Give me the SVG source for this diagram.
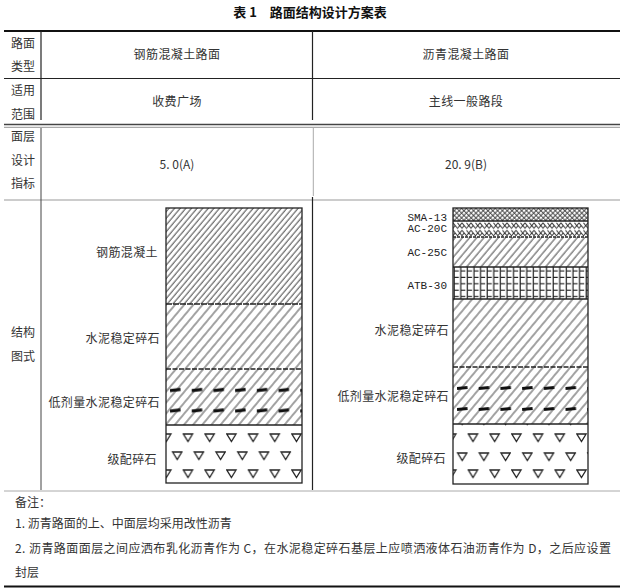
<svg xmlns="http://www.w3.org/2000/svg" width="621" height="588" viewBox="0 0 621 588">
<style>
text{font-family:"Noto Sans CJK SC","Liberation Serif",serif;fill:#333;font-size:12px}
.c{text-anchor:middle}
.e{text-anchor:end}
.t{font-weight:bold;font-size:13px;fill:#111}
.m{font-family:"Liberation Mono","Noto Sans CJK SC",monospace;font-size:11px;fill:#222}
.box{fill:none;stroke:#222;stroke-width:1.3}
.sep{stroke:#222;stroke-width:1.5}
</style>
<defs>
<pattern id="hd" width="4.3" height="4.3" patternUnits="userSpaceOnUse" patternTransform="rotate(40)"><line x1="1" y1="0" x2="1" y2="4.3" stroke="#333" stroke-width="0.9"/></pattern>
<pattern id="hs" width="7" height="7" patternUnits="userSpaceOnUse" patternTransform="rotate(40)"><line x1="1" y1="0" x2="1" y2="7" stroke="#333" stroke-width="0.9"/></pattern>
<pattern id="hm" width="5.5" height="5.5" patternUnits="userSpaceOnUse" patternTransform="rotate(40)"><line x1="1" y1="0" x2="1" y2="5.5" stroke="#333" stroke-width="0.9"/></pattern>
<pattern id="xh" width="3.4" height="3.4" patternUnits="userSpaceOnUse" patternTransform="rotate(45)"><path d="M1,0V3.4M0,1H3.4" stroke="#333" stroke-width="0.9"/></pattern>
<pattern id="zz" x="453" y="222" width="9" height="7.5" patternUnits="userSpaceOnUse"><path d="M0,0.8L4.5,6.3L9,0.8M4.5,0.8L6.7,3.5M0,6.3L2.2,3.5M9,6.3L6.8,3.5" fill="none" stroke="#333" stroke-width="1"/></pattern>
<pattern id="gr" x="453" y="267" width="6.6" height="6.4" patternUnits="userSpaceOnUse"><path d="M1.2,0V6.4M1.2,4H5.8" fill="none" stroke="#222" stroke-width="1.2"/></pattern>
<pattern id="trL" x="182.6" y="429" width="21.7" height="36" patternUnits="userSpaceOnUse"><path d="M0.8,5H10L5.4,12.5Z M11.7,23H20.9L16.3,30.5Z" fill="none" stroke="#222" stroke-width="1.3"/></pattern>
<pattern id="trR" x="467.6" y="429" width="21.7" height="36" patternUnits="userSpaceOnUse"><path d="M0.8,5H10L5.4,12.5Z M11.7,24H20.9L16.3,31.5Z" fill="none" stroke="#222" stroke-width="1.3"/></pattern>
<pattern id="dsL" x="170" y="380" width="21.7" height="20.5" patternUnits="userSpaceOnUse"><path d="M0,10.6L10.5,9.4" stroke="#111" stroke-width="3"/></pattern>
<pattern id="dsR" x="457" y="378" width="21.7" height="21" patternUnits="userSpaceOnUse"><path d="M0,10.6L10.5,9.4" stroke="#111" stroke-width="3"/></pattern>
</defs>

<text class="t c" x="310" y="17">表 1　路面结构设计方案表</text>

<g id="table-lines">
<line x1="4" y1="31" x2="620" y2="31" stroke="#111" stroke-width="2.2"/>
<line x1="4" y1="78.5" x2="620" y2="78.5" stroke="#222" stroke-width="1.2"/>
<line x1="4" y1="124.5" x2="620" y2="124.5" stroke="#444" stroke-width="1.6"/>
<line x1="4" y1="127.3" x2="620" y2="127.3" stroke="#888" stroke-width="0.9"/>
<line x1="4" y1="200" x2="620" y2="200" stroke="#999" stroke-width="1"/>
<line x1="4" y1="491" x2="620" y2="491" stroke="#aaa" stroke-width="1"/>
<line x1="4" y1="586.5" x2="620" y2="586.5" stroke="#111" stroke-width="2"/>
<line x1="41" y1="31" x2="41" y2="120" stroke="#222" stroke-width="1.2"/>
<line x1="41" y1="128" x2="41" y2="490" stroke="#444" stroke-width="1"/>
<line x1="312.5" y1="31" x2="312.5" y2="120" stroke="#222" stroke-width="1.2"/>
<line x1="313.3" y1="128" x2="313.3" y2="196" stroke="#aaa" stroke-width="1"/>
<line x1="312.5" y1="197" x2="312.5" y2="490" stroke="#222" stroke-width="1.2"/>
</g>

<g id="row-type">
<text class="c" x="23" y="48">路面</text>
<text class="c" x="23" y="71">类型</text>
<text class="c" x="177" y="59" letter-spacing="0.4">钢筋混凝土路面</text>
<text class="c" x="466" y="59" letter-spacing="0.4">沥青混凝土路面</text>
</g>
<g id="row-scope">
<text class="c" x="23" y="95">适用</text>
<text class="c" x="23" y="119">范围</text>
<text class="c" x="177" y="106" letter-spacing="0.4">收费广场</text>
<text class="c" x="466" y="106" letter-spacing="0.4">主线一般路段</text>
</g>
<g id="row-index">
<text class="c" x="23" y="141">面层</text>
<text class="c" x="23" y="165">设计</text>
<text class="c" x="23" y="188">指标</text>
<text class="c" x="177" y="169">5. 0(A)</text>
<text class="c" x="466" y="169">20. 9(B)</text>
</g>
<g id="row-structure-label">
<text class="c" x="23" y="337">结构</text>
<text class="c" x="23" y="361">图式</text>
</g>

<g id="left-structure">
<rect x="166" y="208" width="136" height="96" fill="url(#hd)"/>
<rect x="166" y="304" width="136" height="65" fill="url(#hs)"/>
<rect x="166" y="369" width="136" height="56" fill="url(#hs)"/>
<rect x="166" y="425" width="136" height="58" fill="url(#trL)"/>
<rect x="166" y="380" width="136" height="41" fill="url(#dsL)"/>
<line class="sep" x1="166" y1="304" x2="302" y2="304" stroke-dasharray="6 1"/>
<line class="sep" x1="166" y1="369" x2="302" y2="369" stroke-width="1.8" stroke-dasharray="5 1.5"/>
<line class="sep" x1="166" y1="425" x2="302" y2="425"/>
<rect class="box" x="166" y="208" width="136" height="275"/>
<text class="e" x="158" y="257" letter-spacing="0.4">钢筋混凝土</text>
<text class="e" x="160" y="343" letter-spacing="0.4">水泥稳定碎石</text>
<text class="e" x="160" y="407" letter-spacing="0.4">低剂量水泥稳定碎石</text>
<text class="e" x="157" y="464" letter-spacing="0.4">级配碎石</text>
</g>

<g id="right-structure">
<rect x="453" y="208" width="135" height="13" fill="url(#xh)"/>
<rect x="453" y="221" width="135" height="16" fill="url(#zz)"/>
<rect x="453" y="237" width="135" height="30" fill="url(#hm)"/>
<rect x="453" y="267" width="135" height="32" fill="url(#gr)"/>
<rect x="453" y="299" width="135" height="68" fill="url(#hs)"/>
<rect x="453" y="367" width="135" height="57" fill="url(#hs)"/>
<rect x="453" y="424" width="135" height="60" fill="url(#trR)"/>
<rect x="453" y="378" width="135" height="42" fill="url(#dsR)"/>
<line class="sep" x1="453" y1="221" x2="588" y2="221" stroke-width="2"/>
<line class="sep" x1="453" y1="237" x2="588" y2="237" stroke-width="1" stroke-dasharray="3 1"/>
<line class="sep" x1="453" y1="267" x2="588" y2="267" stroke-width="1.8"/>
<line class="sep" x1="453" y1="299" x2="588" y2="299" stroke-width="3.2" stroke="#000"/>
<line class="sep" x1="453" y1="367" x2="588" y2="367" stroke-dasharray="5 1.5"/>
<line class="sep" x1="453" y1="424" x2="588" y2="424"/>
<rect class="box" x="453" y="208" width="135" height="276"/>
<text class="m e" x="447" y="221">SMA-13</text>
<text class="m e" x="447" y="232">AC-20C</text>
<text class="m e" x="447" y="256">AC-25C</text>
<text class="m e" x="447" y="289">ATB-30</text>
<text class="e" x="449" y="335" letter-spacing="0.4">水泥稳定碎石</text>
<text class="e" x="449" y="401" letter-spacing="0.4">低剂量水泥稳定碎石</text>
<text class="e" x="446" y="463" letter-spacing="0.4">级配碎石</text>
</g>

<g id="notes">
<text x="15" y="507">备注：</text>
<text x="15" y="528">1. 沥青路面的上、中面层均采用改性沥青</text>
<text x="15" y="553" textLength="596" lengthAdjust="spacing">2. 沥青路面面层之间应洒布乳化沥青作为 C，在水泥稳定碎石基层上应喷洒液体石油沥青作为 D，之后应设置</text>
<text x="15" y="577">封层</text>
</g>
</svg>
